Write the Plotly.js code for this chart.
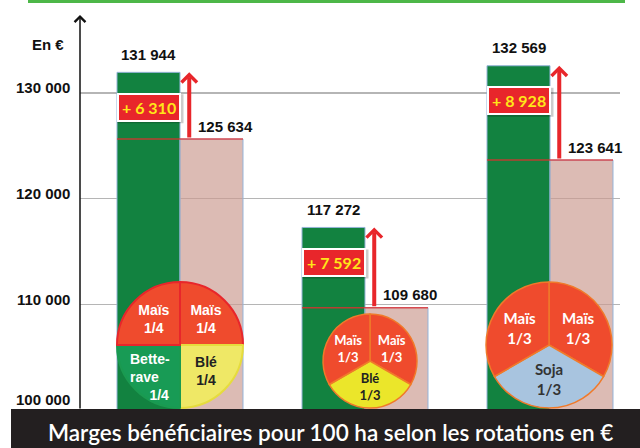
<!DOCTYPE html>
<html>
<head>
<meta charset="utf-8">
<script src="https://cdn.plot.ly/plotly-3.0.1.min.js"></script>
<style>html,body{margin:0;padding:0;background:#fff;}#chart{width:640px;height:448px;}</style>
</head>
<body>
<div id="chart"></div>
<script>
// ---- data ----
const categories = ['Maïs / Maïs / Betterave / Blé', 'Maïs / Maïs / Blé', 'Maïs / Maïs / Soja'];
const margesVertes = [131944, 117272, 132569];
const margesRoses = [125634, 109680, 123641];
const yTickValues = [100000, 110000, 120000, 130000];
const yTickLabels = ['100 000', '110 000', '120 000', '130 000'];
const unitLabel = 'En €';
const chartTitle = 'Marges bénéficiaires pour 100 ha selon les rotations en €';

const rotation1Parts = [1, 1, 1, 1];
const rotation1Texts = ['Maïs<br>1/4', 'Blé<br>1/4', 'Bette-<br>rave<br>\u00a0\u00a0\u00a0\u00a0\u00a01/4', 'Maïs<br>1/4'];
const rotation2Parts = [1, 1, 1];
const rotation2Texts = ['Maïs<br>1/3', 'Blé<br>1/3', 'Maïs<br>1/3'];
const rotation3Parts = [1, 1, 1];
const rotation3Texts = ['Maïs<br>1/3', 'Soja<br>1/3', 'Maïs<br>1/3'];

// ---- helpers ----
function fmt(n) { return String(n).replace(/\B(?=(\d{3})+(?!\d))/g, ' '); }
const W = 640, H = 448, ML = 80, MR = 20, MT = 20, MB = 38;
const PW = W - ML - MR, PH = H - MT - MB;
const px = x => (x - ML) / PW;            // pixel x -> paper
const py = y => (H - MB - y) / PH;        // pixel y -> paper
const barHalf = 0.3405;

const GREEN = '#128240', PINK = 'rgba(204,155,145,0.68)', OUTLINE = '#94b3d8';
const RED = '#e8262b', MAIS = '#ef4b2d';

const traces = [
  {type: 'bar', x: categories, y: margesVertes, marker: {color: GREEN, line: {color: OUTLINE, width: 1}}, hoverinfo: 'none'},
  {type: 'bar', x: categories, y: margesRoses, marker: {color: PINK, line: {color: OUTLINE, width: 1}}, hoverinfo: 'none'}
];

const pieCommon = {type: 'pie', sort: false, direction: 'clockwise', rotation: 0, textinfo: 'text',
  textposition: 'inside', insidetextorientation: 'horizontal', hoverinfo: 'none', showlegend: false};

// Betterave label is drawn as an annotation (left-aligned lines), others by the pie itself
const pie1Shown = rotation1Texts.map((t, i) => i === 2 ? '' : t);
traces.push(Object.assign({}, pieCommon, {
  values: rotation1Parts, labels: rotation1Texts.map((t, i) => i + t), text: pie1Shown,
  domain: {x: [px(117), px(243)], y: [py(408), py(282)]},
  marker: {colors: [MAIS, '#efe866', '#189b55', MAIS], line: {color: ['#e8262b', '#e6dc3c', '#1a9a50', '#e8262b'], width: 2}},
  textfont: {family: 'Arial, Liberation Sans', size: 14, weight: 'bold', color: ['white', '#222', 'white', 'white']}
}));
traces.push(Object.assign({}, pieCommon, {
  values: rotation2Parts, labels: rotation2Texts.map((t, i) => i + t), text: rotation2Texts,
  domain: {x: [px(323), px(417)], y: [py(408), py(314)]},
  marker: {colors: [MAIS, '#ebe62a', MAIS], line: {color: '#f07a2a', width: 1.5}},
  textfont: {family: 'Lato, Arial', size: 13, weight: 'bold', color: ['white', '#222', 'white']}
}));
traces.push(Object.assign({}, pieCommon, {
  values: rotation3Parts, labels: rotation3Texts.map((t, i) => i + t), text: rotation3Texts,
  domain: {x: [px(486), px(612)], y: [py(408), py(282)]},
  marker: {colors: [MAIS, '#a8c4df', MAIS], line: {color: '#f07a2a', width: 1.5}},
  textfont: {family: 'Lato, Arial', size: 15, weight: 'bold', color: ['white', '#333', 'white']}
}));

const annotations = [];
const shapes = [];
const labFont = {family: 'Arial, Liberation Sans', size: 15, color: '#111', weight: 'bold'};

annotations.push({xref: 'paper', yref: 'paper', x: px(150), y: py(377), xanchor: 'center', yanchor: 'middle',
  text: rotation1Texts[2], align: 'left', showarrow: false,
  font: {family: 'Arial, Liberation Sans', size: 14, weight: 'bold', color: 'white'}});

// y tick labels
yTickValues.forEach((v, i) => {
  annotations.push({xref: 'paper', yref: 'y', x: 0, y: v, xanchor: 'right', yanchor: 'middle',
    xshift: -8, yshift: i === 0 ? 11 : 5, text: yTickLabels[i], showarrow: false, font: labFont});
});
annotations.push({xref: 'paper', yref: 'paper', x: px(48), y: py(44), xanchor: 'center', yanchor: 'middle',
  text: unitLabel, showarrow: false, font: labFont});
// y axis arrow
annotations.push({xref: 'paper', yref: 'paper', x: 0, y: py(15), ax: 0, ay: 395, text: '', showarrow: true,
  arrowhead: 4, arrowwidth: 1.5, arrowsize: 1.4, arrowcolor: '#111', standoff: 0});

categories.forEach((c, i) => {
  const gx = i - barHalf / 2;
  // red line on top of pink bar
  shapes.push({type: 'line', xref: 'x', yref: 'y', x0: i - barHalf, x1: i + barHalf, y0: margesRoses[i], y1: margesRoses[i],
    line: {color: 'rgba(228,45,45,0.8)', width: 1.5}, layer: 'above'});
  // value labels
  annotations.push({xref: 'x', yref: 'y', x: gx, y: margesVertes[i], yshift: 18, xanchor: 'center', yanchor: 'middle',
    text: fmt(margesVertes[i]), showarrow: false, font: labFont});
  annotations.push({xref: 'x', yref: 'y', x: i + barHalf / 2, y: margesRoses[i], xshift: 14, yshift: 13, xanchor: 'center', yanchor: 'middle',
    text: fmt(margesRoses[i]), showarrow: false, font: labFont});
  // red arrow
  annotations.push({xref: 'x', yref: 'y', axref: 'x', ayref: 'y', x: i + 0.05, y: margesVertes[i], ax: i + 0.05, ay: margesRoses[i],
    text: '', showarrow: true, arrowhead: 4, arrowwidth: 4, arrowsize: 0.75, arrowcolor: RED, standoff: 0});
  // difference label: shadow shape + boxed text
  shapes.push({type: 'rect', xref: 'x', yref: 'y', xsizemode: 'pixel', ysizemode: 'pixel', xanchor: gx, yanchor: margesVertes[i],
    x0: -31, x1: 35, y0: -51, y1: -22, fillcolor: 'rgba(0,0,0,0.2)', line: {width: 0}, layer: 'above'});
  annotations.push({xref: 'x', yref: 'y', x: gx, y: margesVertes[i], yshift: -35, xanchor: 'center', yanchor: 'middle',
    text: '+ ' + fmt(margesVertes[i] - margesRoses[i]), showarrow: false,
    font: {family: 'Lato, Arial', size: 16, weight: 'bold', color: '#ffe619'},
    bgcolor: RED, bordercolor: 'white', borderwidth: 2, borderpad: 3});
});

// bottom banner
shapes.push({type: 'rect', xref: 'paper', yref: 'paper', x0: px(11), x1: px(645), y0: py(452), y1: py(409),
  fillcolor: '#231f20', line: {width: 0}, layer: 'above'});
annotations.push({xref: 'paper', yref: 'paper', x: px(330), y: py(432), xanchor: 'center', yanchor: 'middle',
  text: chartTitle, showarrow: false,
  font: {family: 'Lato, Open Sans', size: 22.5, color: 'white', weight: 600}});
// top green line
shapes.push({type: 'line', xref: 'paper', yref: 'paper', x0: px(28), x1: px(625), y0: py(1.5), y1: py(1.5),
  line: {color: '#4db748', width: 3}, layer: 'above'});

const layout = {
  width: W, height: H, margin: {l: ML, r: MR, t: MT, b: MB, pad: 0},
  paper_bgcolor: 'white', plot_bgcolor: 'white', showlegend: false,
  barmode: 'group', bargap: 0.319, bargroupgap: 0,
  xaxis: {type: 'category', range: [-0.5405, 2.3784], showticklabels: false, showgrid: false, zeroline: false, showline: false, ticks: '', fixedrange: true},
  yaxis: {range: [100000, 136897], tickvals: yTickValues, showticklabels: false, showgrid: true, gridcolor: '#b5b5b5', gridwidth: 1.5,
    zeroline: false, showline: false, ticks: '', fixedrange: true},
  annotations: annotations, shapes: shapes
};

Plotly.newPlot('chart', traces, layout, {staticPlot: true, displayModeBar: false});
</script>
</body>
</html>
